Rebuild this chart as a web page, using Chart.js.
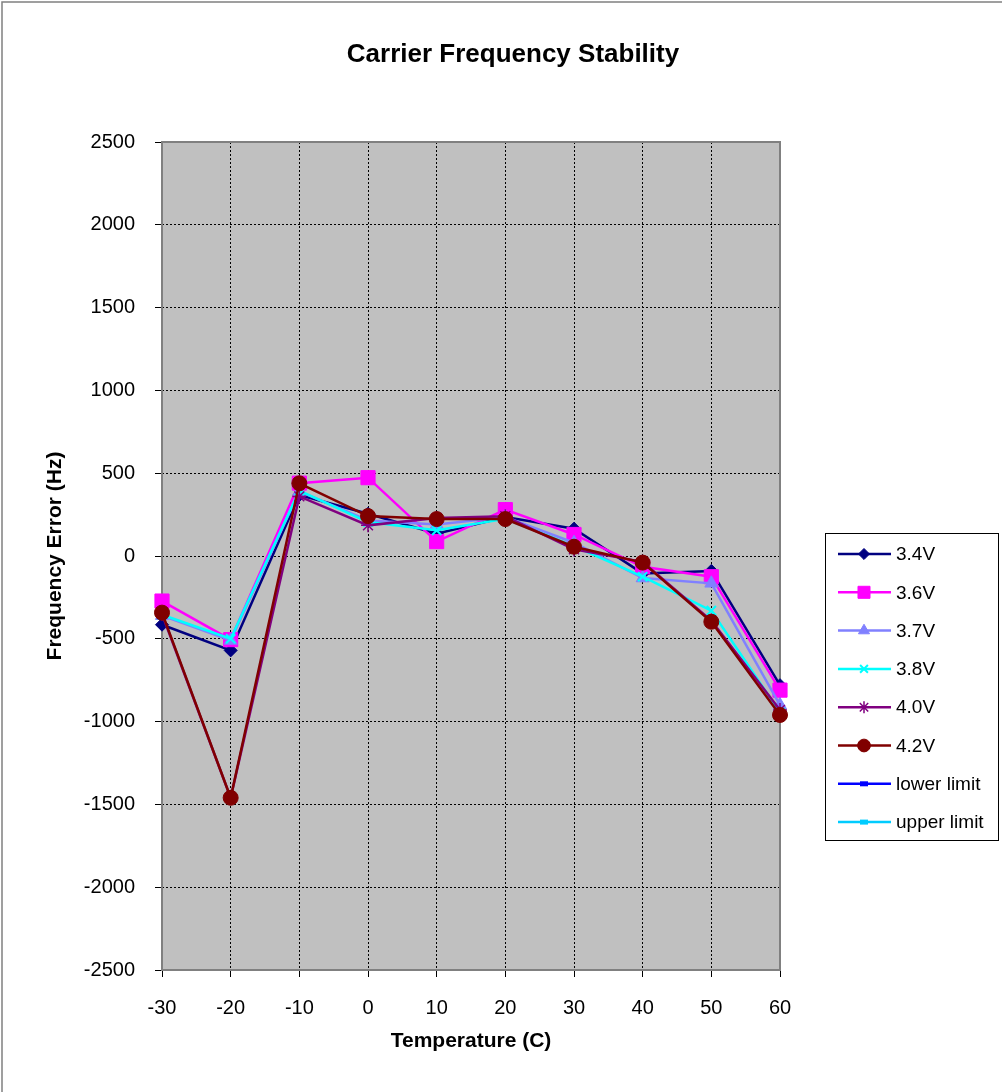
<!DOCTYPE html>
<html>
<head>
<meta charset="utf-8">
<title>Carrier Frequency Stability</title>
<script src="https://cdn.jsdelivr.net/npm/chart.js@4.4.1/dist/chart.umd.min.js"></script>
<style>
  html, body { margin: 0; padding: 0; background: #ffffff; }
  #wrap { width: 1002px; height: 1092px; position: relative; }
  canvas { display: block; }
</style>
</head>
<body>
<div id="wrap"><canvas id="c" width="1002" height="1092"></canvas></div>
<script>
// Temperature sweep (C) and measured carrier frequency error (Hz) per supply voltage
const temps = [-30, -20, -10, 0, 10, 20, 30, 40, 50, 60];
const v34 = [-415, -570, 368, 255, 135, 235, 165, -105, -90, -780];
const v36 = [-272, -505, 440, 473, 87, 280, 130, -65, -125, -810];
const v37 = [-360, -510, 390, 215, 190, 235, 80, -133, -165, -900];
const v38 = [-355, -500, 395, 205, 155, 225, 60, -125, -330, -945];
const v40 = [-350, -1460, 360, 185, 230, 240, 40, -35, -390, -930];
const v42 = [-342, -1460, 439, 241, 223, 223, 56, -40, -397, -960];
// Limit series have no points inside the plotted range
const lowerLimit = [null, null, null, null, null, null, null, null, null, null];
const upperLimit = [null, null, null, null, null, null, null, null, null, null];
const seriesNames = ['3.4V', '3.6V', '3.7V', '3.8V', '4.0V', '4.2V', 'lower limit', 'upper limit'];
const yTicks = [-2500, -2000, -1500, -1000, -500, 0, 500, 1000, 1500, 2000, 2500];

const FONT = '"Liberation Sans", Arial, Helvetica, sans-serif';

const styles = [
  { color: '#000080', point: 'rectRot', radius: 6.5, bw: 1 },
  { color: '#ff00ff', point: 'rect', radius: 10, bw: 1 },
  { color: '#8080ff', point: 'triangle', radius: 7.5, bw: 1 },
  { color: '#00ffff', point: 'crossRot', radius: 6.5, bw: 2 },
  { color: '#800080', point: 'star', radius: 7, bw: 1.5 },
  { color: '#800000', point: 'circle', radius: 7.5, bw: 1 },
  { color: '#0000ff', point: 'limit', radius: 0, bw: 1 },
  { color: '#00ccff', point: 'limit', radius: 0, bw: 1 }
];
const seriesData = [v34, v36, v37, v38, v40, v42, lowerLimit, upperLimit];

const datasets = seriesData.map((vals, i) => ({
  label: seriesNames[i],
  data: temps.map((t, k) => ({ x: t, y: vals[k] })),
  borderColor: styles[i].color,
  backgroundColor: styles[i].color,
  borderWidth: 2.5,
  pointStyle: styles[i].point === 'limit' ? 'rect' : styles[i].point,
  pointRadius: styles[i].radius,
  pointBorderWidth: styles[i].bw,
  pointBorderColor: styles[i].color,
  pointBackgroundColor: styles[i].color,
  pointHoverRadius: styles[i].radius,
  tension: 0,
  spanGaps: false,
  clip: false,
  order: -i
}));

// Plot background, frame, titles, outer border and the legend box
const decor = {
  id: 'decor',
  beforeDraw(chart) {
    const { ctx, chartArea: a } = chart;
    ctx.save();
    ctx.fillStyle = '#ffffff';
    ctx.fillRect(0, 0, chart.width, chart.height);
    ctx.fillStyle = '#c0c0c0';
    ctx.fillRect(a.left, a.top, a.right - a.left, a.bottom - a.top);
    ctx.restore();
  },
  beforeDatasetsDraw(chart) {
    const { ctx, chartArea: a } = chart;
    ctx.save();
    ctx.strokeStyle = '#808080';
    ctx.lineWidth = 2;
    ctx.strokeRect(a.left, a.top, a.right - a.left, a.bottom - a.top);
    ctx.restore();
  },
  afterDraw(chart) {
    const { ctx, chartArea: a } = chart;
    ctx.save();
    // outer chart border
    ctx.strokeStyle = '#808080';
    ctx.lineWidth = 1.5;
    ctx.beginPath();
    ctx.moveTo(2, chart.height);
    ctx.lineTo(2, 2);
    ctx.lineTo(chart.width, 2);
    ctx.stroke();

    ctx.fillStyle = '#000000';
    ctx.textAlign = 'center';
    ctx.textBaseline = 'middle';
    ctx.font = 'bold 26px ' + FONT;
    ctx.fillText('Carrier Frequency Stability', 513, 55);

    ctx.font = 'bold 21px ' + FONT;
    ctx.fillText('Temperature (C)', (a.left + a.right) / 2, 1041);

    ctx.save();
    ctx.translate(55, (a.top + a.bottom) / 2);
    ctx.rotate(-Math.PI / 2);
    ctx.fillText('Frequency Error (Hz)', 0, 0);
    ctx.restore();

    // legend
    const lx = 825.5, ly = 533.5, lw = 173, lh = 307;
    ctx.fillStyle = '#ffffff';
    ctx.fillRect(lx, ly, lw, lh);
    ctx.strokeStyle = '#000000';
    ctx.lineWidth = 1;
    ctx.strokeRect(lx, ly, lw, lh);
    ctx.font = '19px ' + FONT;
    ctx.textAlign = 'left';
    const step = 38.3;
    chart.data.datasets.forEach((ds, i) => {
      const y = 554 + i * step;
      const st = styles[i];
      ctx.strokeStyle = st.color;
      ctx.lineWidth = 2.5;
      ctx.beginPath();
      ctx.moveTo(838, y);
      ctx.lineTo(891, y);
      ctx.stroke();
      if (st.point === 'limit') {
        ctx.fillStyle = st.color;
        ctx.fillRect(860, y - 2.5, 8, 5);
      } else {
        ctx.fillStyle = st.color;
        ctx.strokeStyle = st.color;
        ctx.lineWidth = st.bw;
        Chart.helpers.drawPoint(ctx, {
          pointStyle: st.point, radius: st.radius * 0.85, rotation: 0, borderWidth: st.bw
        }, 864, y);
      }
      ctx.fillStyle = '#000000';
      ctx.fillText(ds.label, 896, y + 1);
    });
    ctx.restore();
  }
};

new Chart(document.getElementById('c'), {
  type: 'line',
  data: { datasets },
  options: {
    responsive: false,
    animation: false,
    devicePixelRatio: 1,
    layout: { padding: { left: 0, right: 222, top: 142, bottom: 0 } },
    plugins: {
      legend: { display: false },
      title: { display: false },
      tooltip: { enabled: false }
    },
    scales: {
      x: {
        type: 'linear',
        min: -30,
        max: 60,
        afterFit(scale) { scale.height = 122; },
        afterBuildTicks(scale) { scale.ticks = temps.map(v => ({ value: v })); },
        ticks: {
          color: '#000000',
          font: { family: FONT, size: 20 },
          padding: 19,
          maxRotation: 0,
          autoSkip: false,
          callback: (v) => String(v)
        },
        grid: {
          color: '#000000',
          lineWidth: 1,
          drawTicks: true,
          tickLength: 7,
          tickColor: '#000000',
          tickWidth: 1,
          tickBorderDash: []
        },
        border: { display: false, dash: [2, 2] }
      },
      y: {
        type: 'linear',
        min: -2500,
        max: 2500,
        afterFit(scale) { scale.width = 162; },
        afterBuildTicks(scale) { scale.ticks = yTicks.map(v => ({ value: v })); },
        ticks: {
          color: '#000000',
          font: { family: FONT, size: 20 },
          padding: 20,
          autoSkip: false,
          callback: (v) => String(v)
        },
        grid: {
          color: '#000000',
          lineWidth: 1,
          drawTicks: true,
          tickLength: 7,
          tickColor: '#000000',
          tickWidth: 1,
          tickBorderDash: []
        },
        border: { display: false, dash: [2, 2] }
      }
    }
  },
  plugins: [decor]
});
</script>
</body>
</html>
